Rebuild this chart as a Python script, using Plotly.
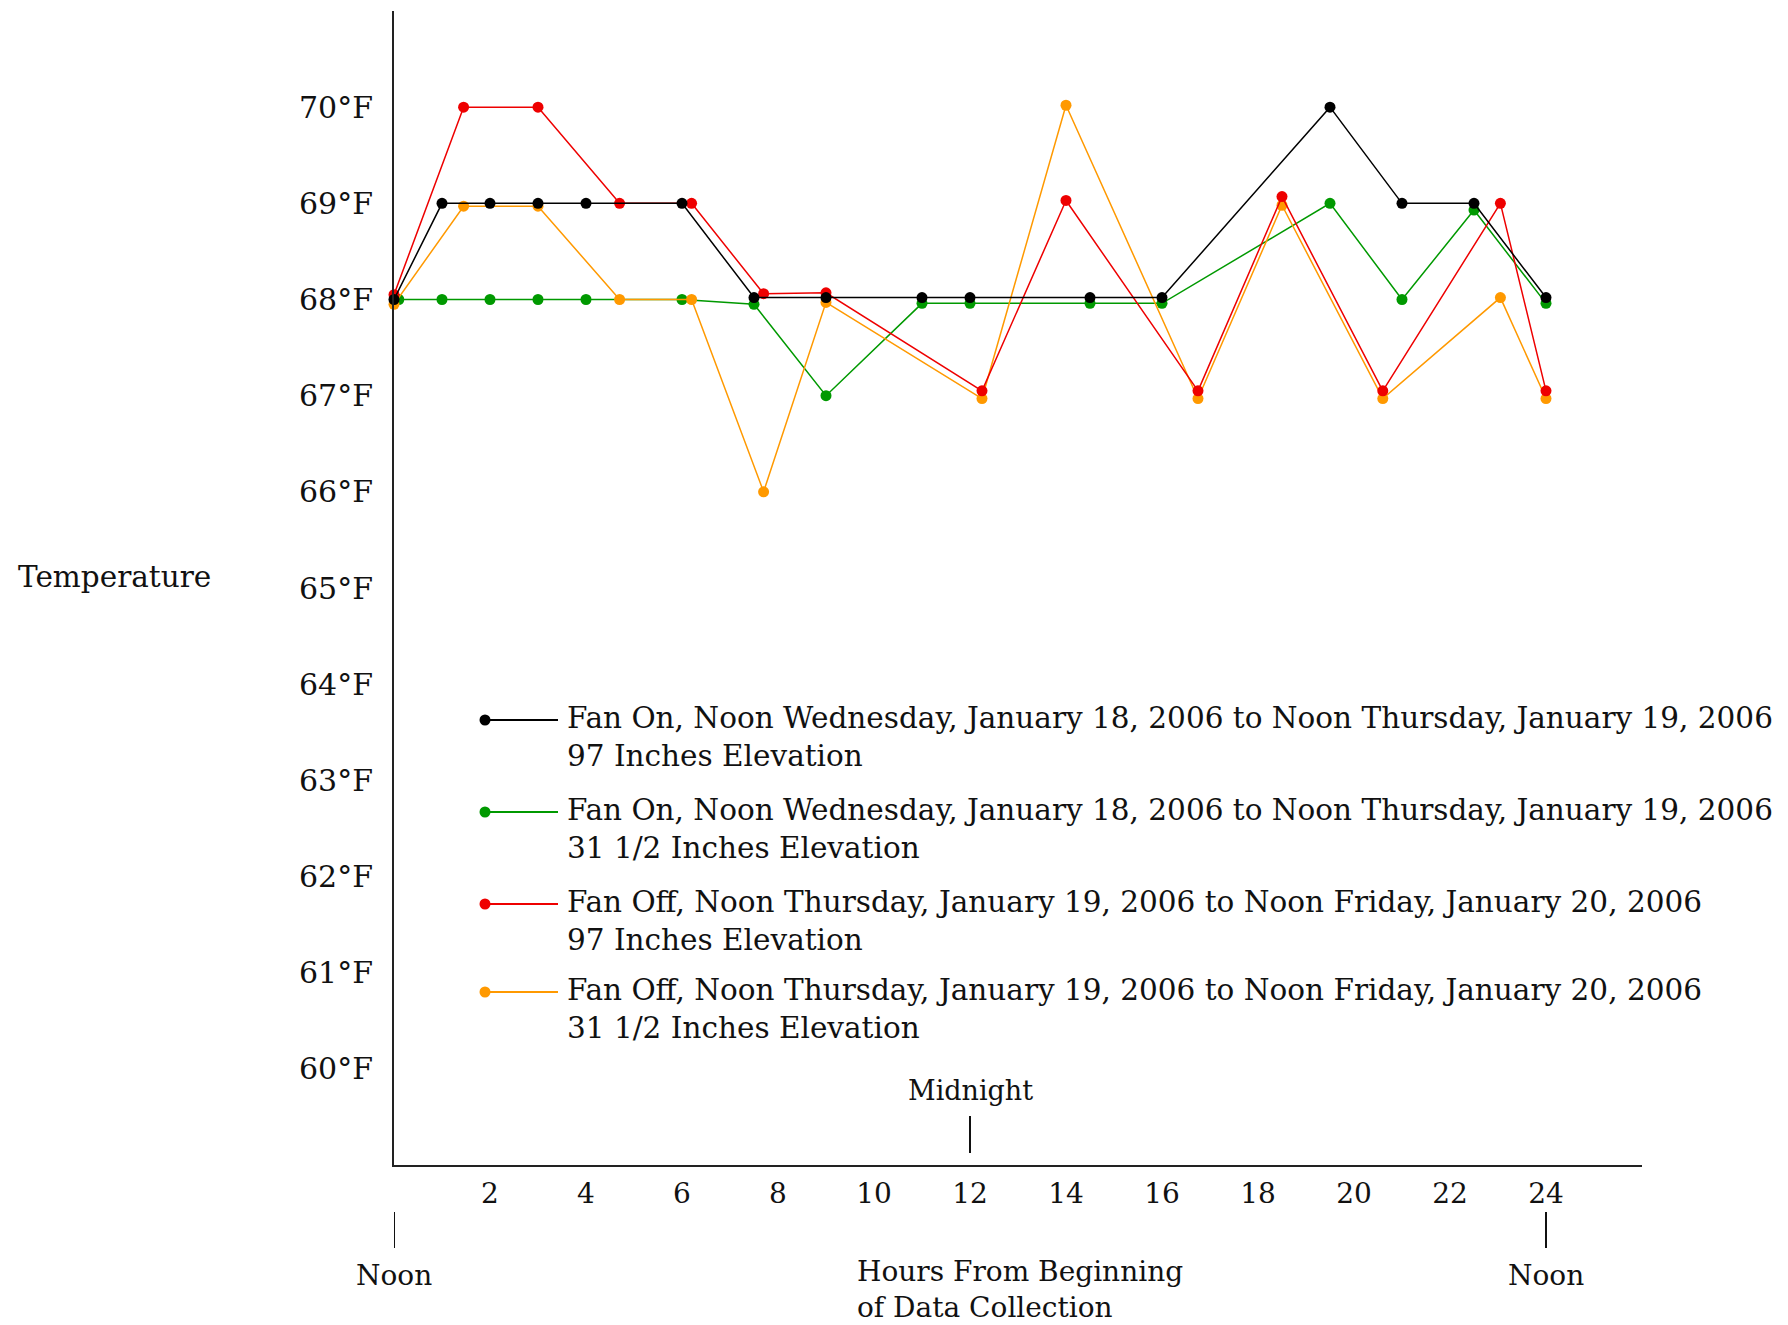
import plotly.graph_objects as go

# ---------------- data ----------------
fan_on_hours = [0, 1, 2, 3, 4, 6, 7.5, 9, 11, 12, 14.5, 16, 19.5, 21, 22.5, 24]
fan_on_97_temp = [68, 69, 69, 69, 69, 69, 68.02, 68.02, 68.02, 68.02, 68.02, 68.02, 70, 69, 69, 68.02]
fan_on_31_hours = [0.1, 1, 2, 3, 4, 6, 7.5, 9, 11, 12, 14.5, 16, 19.5, 21, 22.5, 24]
fan_on_31_temp = [68, 68, 68, 68, 68, 68, 67.95, 67, 67.96, 67.96, 67.96, 67.96, 69, 68, 68.93, 67.96]

fan_off_hours = [0, 1.45, 3, 4.7, 6.2, 7.7, 9, 12.25, 14, 16.75, 18.5, 20.6, 23.05, 24]
fan_off_97_temp = [68.05, 70, 70, 69, 69, 68.06, 68.07, 67.05, 69.03, 67.05, 69.07, 67.05, 69, 67.05]
fan_off_31_temp = [67.95, 68.97, 68.97, 68, 68, 66, 67.97, 66.97, 70.02, 66.97, 68.98, 66.97, 68.02, 66.97]

series_names = [
    "Fan On, Noon Wednesday, January 18, 2006 to Noon Thursday, January 19, 2006<br>97 Inches Elevation",
    "Fan On, Noon Wednesday, January 18, 2006 to Noon Thursday, January 19, 2006<br>31 1/2 Inches Elevation",
    "Fan Off, Noon Thursday, January 19, 2006 to Noon Friday, January 20, 2006<br>97 Inches Elevation",
    "Fan Off, Noon Thursday, January 19, 2006 to Noon Friday, January 20, 2006<br>31 1/2 Inches Elevation",
]
series_colors = ["#000000", "#009900", "#ee0000", "#ff9900"]

x_tick_vals = [2, 4, 6, 8, 10, 12, 14, 16, 18, 20, 22, 24]
x_tick_text = [str(v) for v in x_tick_vals]
y_tick_vals = [60, 61, 62, 63, 64, 65, 66, 67, 68, 69, 70]
y_tick_text = [f"{v}°F" for v in y_tick_vals]

FONT = "DejaVu Serif"
OFF = 8  # page body margin in the browser
W, H = 1788 - OFF, 1325 - OFF
ML, MT = 394 - OFF, 11 - OFF
PLOT_RIGHT, PLOT_BOTTOM = 1642 - OFF, 1165 - OFF
MR, MB = W - PLOT_RIGHT, H - PLOT_BOTTOM
PH = H - MT - MB
PW = W - ML - MR


def py(pix):
    """screen pixel row -> paper y"""
    return (PLOT_BOTTOM - (pix - OFF)) / PH


def px(pix):
    """screen pixel column -> paper x"""
    return ((pix - OFF) - ML) / PW


fig = go.Figure()

series = [
    (fan_on_hours, fan_on_97_temp),
    (fan_on_31_hours, fan_on_31_temp),
    (fan_off_hours, fan_off_97_temp),
    (fan_off_hours, fan_off_31_temp),
]
draw_order = [1, 3, 2, 0]
for i in draw_order:
    xs, ys = series[i]
    fig.add_trace(go.Scatter(
        x=xs, y=ys, mode="lines+markers", name=series_names[i],
        line=dict(color=series_colors[i], width=1.5),
        marker=dict(color=series_colors[i], size=11),
        showlegend=False, cliponaxis=False,
    ))

shapes = []
annotations = []

# custom legend
legend_rows = [720, 812, 904, 992]
for i, row in enumerate(legend_rows):
    yc = py(row)
    shapes.append(dict(type="line", xref="paper", yref="paper",
                       x0=px(485), x1=px(558), y0=yc, y1=yc,
                       line=dict(color=series_colors[i], width=1.8)))
    shapes.append(dict(type="circle", xref="paper", yref="paper",
                       xsizemode="pixel", ysizemode="pixel",
                       xanchor=px(485), yanchor=yc,
                       x0=-5.5, x1=5.5, y0=-5.5, y1=5.5,
                       fillcolor=series_colors[i], line=dict(color=series_colors[i], width=0)))
    annotations.append(dict(text=series_names[i], xref="paper", yref="paper",
                            x=px(565), y=py(row + 17), xanchor="left", yanchor="middle",
                            align="left", showarrow=False,
                            font=dict(family=FONT, size=29.5, color="#111")))

# Noon / Midnight markers
for hx in [0, 24]:
    shapes.append(dict(type="line", xref="x", yref="paper", x0=hx, x1=hx,
                       y0=py(1212), y1=py(1248), line=dict(color="#111", width=2)))
    annotations.append(dict(text="Noon", xref="x", yref="paper", x=hx, y=py(1275),
                            xanchor="center", yanchor="middle", showarrow=False,
                            font=dict(family=FONT, size=28, color="#111")))
shapes.append(dict(type="line", xref="x", yref="paper", x0=12, x1=12,
                   y0=py(1116), y1=py(1153), line=dict(color="#111", width=2)))
annotations.append(dict(text="Midnight", xref="x", yref="paper", x=12, y=py(1090),
                        xanchor="center", yanchor="middle", showarrow=False,
                        font=dict(family=FONT, size=27, color="#111")))

annotations.append(dict(text="Hours From Beginning<br>of Data Collection", xref="paper", yref="paper",
                        x=px(855), y=py(1289), xanchor="left", yanchor="middle", align="left",
                        showarrow=False, font=dict(family=FONT, size=28, color="#111")))
annotations.append(dict(text="Temperature", xref="paper", yref="paper",
                        x=px(16), y=py(577), xanchor="left", yanchor="middle",
                        showarrow=False, font=dict(family=FONT, size=29.5, color="#111")))

fig.update_layout(
    width=W, height=H,
    margin=dict(l=ML, r=MR, t=MT, b=MB, pad=0),
    paper_bgcolor="white", plot_bgcolor="white",
    showlegend=False,
    shapes=shapes, annotations=annotations,
    font=dict(family=FONT, size=28, color="#111"),
    xaxis=dict(range=[0, 26], tickvals=x_tick_vals, ticktext=x_tick_text,
               showgrid=False, zeroline=False, showline=True, linecolor="#222", linewidth=2,
               ticks="outside", ticklen=2, tickcolor="rgba(0,0,0,0)",
               tickfont=dict(family=FONT, size=28, color="#111")),
    yaxis=dict(range=[59, 71], tickvals=y_tick_vals, ticktext=y_tick_text,
               showgrid=False, zeroline=False, showline=True, linecolor="#222", linewidth=2,
               ticks="outside", ticklen=13, tickcolor="rgba(0,0,0,0)",
               tickfont=dict(family=FONT, size=30, color="#111")),
)

fig.write_html("out.html")
